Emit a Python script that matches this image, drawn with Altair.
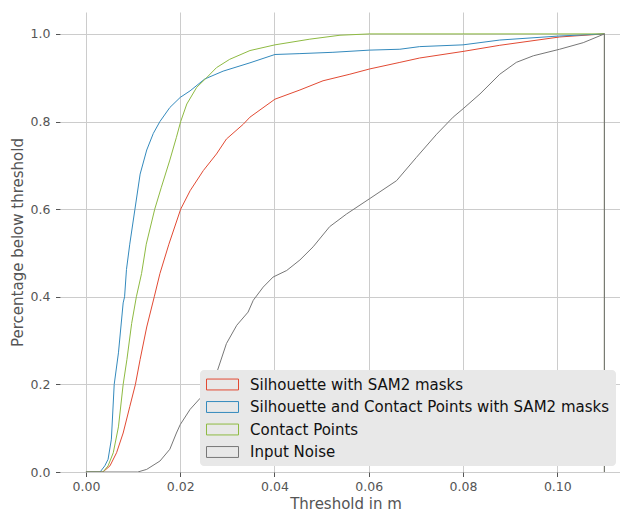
import altair as alt
import pandas as pd

names = [
    "Silhouette with SAM2 masks",
    "Silhouette and Contact Points with SAM2 masks",
    "Contact Points",
    "Input Noise",
]
colors = ["#E24A33", "#348ABD", "#8EBA42", "#777777"]

red_x = [0.0, 0.0036, 0.0051, 0.0065, 0.0079, 0.0093, 0.0105, 0.0115, 0.0129, 0.0145, 0.0157,
         0.0176, 0.0201, 0.0221, 0.0249, 0.0277, 0.0298, 0.0334, 0.0348, 0.0401, 0.0454, 0.0503,
         0.056, 0.0602, 0.0666, 0.0708, 0.08, 0.0878, 0.1005, 0.11, 0.11]
red_p = [0.0, 0.0, 0.014, 0.044, 0.089, 0.149, 0.2, 0.257, 0.331, 0.4, 0.453,
         0.52, 0.6, 0.642, 0.688, 0.726, 0.76, 0.794, 0.81, 0.851, 0.872, 0.893,
         0.908, 0.92, 0.935, 0.945, 0.96, 0.974, 0.993, 1.0, 0.0]

blue_x = [0.0, 0.003, 0.004, 0.0047, 0.0054, 0.006, 0.0069, 0.0079, 0.0082, 0.0086, 0.0093,
          0.0104, 0.0115, 0.0129, 0.0143, 0.0157, 0.0178, 0.02, 0.0221, 0.0252, 0.0291, 0.0348,
          0.0401, 0.0454, 0.0524, 0.0602, 0.0666, 0.0708, 0.08, 0.0878, 0.1001, 0.11, 0.11]
blue_p = [0.0, 0.0, 0.014, 0.029, 0.075, 0.2, 0.272, 0.386, 0.4, 0.462, 0.52,
          0.6, 0.68, 0.735, 0.773, 0.8, 0.832, 0.855, 0.87, 0.897, 0.915, 0.934,
          0.953, 0.955, 0.958, 0.963, 0.965, 0.971, 0.975, 0.986, 0.995, 1.0, 0.0]

green_x = [0.0, 0.0036, 0.0047, 0.0058, 0.0069, 0.0079, 0.0087, 0.0097, 0.0107, 0.0118, 0.0128,
           0.0146, 0.016, 0.0178, 0.0192, 0.0201, 0.0214, 0.0235, 0.0256, 0.0277, 0.0305, 0.0348,
           0.0401, 0.0475, 0.0539, 0.0602, 0.11, 0.11]
green_p = [0.0, 0.0, 0.014, 0.044, 0.103, 0.2, 0.257, 0.339, 0.4, 0.453, 0.52,
           0.6, 0.65, 0.712, 0.764, 0.8, 0.84, 0.878, 0.9, 0.923, 0.942, 0.962,
           0.975, 0.988, 0.997, 1.0, 1.0, 0.0]

gray_x = [0.0, 0.011, 0.0129, 0.0157, 0.0178, 0.0192, 0.02, 0.0221, 0.0242, 0.0259, 0.0277,
          0.0298, 0.032, 0.0344, 0.0355, 0.0376, 0.0397, 0.0426, 0.0454, 0.0482, 0.0517, 0.0553,
          0.0602, 0.0659, 0.0701, 0.0744, 0.0779, 0.08, 0.0836, 0.0878, 0.0913, 0.0949, 0.1005,
          0.1055, 0.11, 0.11]
gray_p = [0.0, 0.0, 0.006, 0.025, 0.052, 0.089, 0.108, 0.143, 0.168, 0.2, 0.225,
          0.293, 0.335, 0.365, 0.392, 0.422, 0.445, 0.46, 0.484, 0.514, 0.56, 0.589,
          0.624, 0.665, 0.718, 0.771, 0.81, 0.829, 0.863, 0.908, 0.935, 0.95, 0.965,
          0.98, 1.0, 0.0]

x_ticks = [0.0, 0.02, 0.04, 0.06, 0.08, 0.10]
y_ticks = [0.0, 0.2, 0.4, 0.6, 0.8, 1.0]

rows = []
for name, xs, ps in zip(names, [red_x, blue_x, green_x, gray_x], [red_p, blue_p, green_p, gray_p]):
    for i, (xv, pv) in enumerate(zip(xs, ps)):
        rows.append({"series": name, "x": xv, "p": pv, "order": i})
df = pd.DataFrame(rows)

FONT = "DejaVu Sans"

chart = (
    alt.Chart(df)
    .mark_line(strokeWidth=1, clip=True)
    .encode(
        x=alt.X(
            "x:Q",
            scale=alt.Scale(domain=[-0.0055, 0.1133], nice=False, zero=False),
            axis=alt.Axis(
                values=x_ticks, format=".2f", title="Threshold in m",
                titleX=285.5, titleY=36, titleBaseline="alphabetic", titleAlign="center",
                labelPadding=4,
            ),
        ),
        y=alt.Y(
            "p:Q",
            scale=alt.Scale(domain=[0, 1.05], nice=False),
            axis=alt.Axis(
                values=y_ticks, format=".1f", title="Percentage below threshold",
                titleX=-43, titleY=230, titleAngle=-90, titleBaseline="middle", titleAlign="center",
                labelPadding=5.5,
            ),
        ),
        color=alt.Color(
            "series:N",
            scale=alt.Scale(domain=names, range=colors),
            sort=names,
            legend=alt.Legend(
                orient="none", legendX=140, legendY=358, title=None,
                fillColor="#e8e8e8", cornerRadius=4, padding=6,
                symbolType="M-2,-0.68H2V0.68H-2Z", symbolSize=256, symbolOffset=8,
                symbolStrokeWidth=1, symbolFillColor="transparent",
                labelFontSize=15, labelColor="#111111", labelFont=FONT,
                labelOffset=19, rowPadding=5.5, labelLimit=0,
            ),
        ),
        order="order:Q",
    )
    .properties(
        width=560, height=460,
        autosize=alt.AutoSizeParams(type="none"),
        padding={"left": 52, "top": 4, "right": 0, "bottom": 40},
        background="white",
    )
    .configure_view(stroke=None)
    .configure_axis(
        domain=False, tickColor="#555555", tickSize=4.5, tickWidth=1,
        labelColor="#555555", labelFontSize=12.5, labelFont=FONT,
        titleColor="#555555", titleFontSize=15, titleFont=FONT, titleFontWeight="normal",
        gridColor="#cccccc", gridWidth=1,
    )
)

chart.save("out.html", embed_options={"renderer": "svg", "actions": False})
